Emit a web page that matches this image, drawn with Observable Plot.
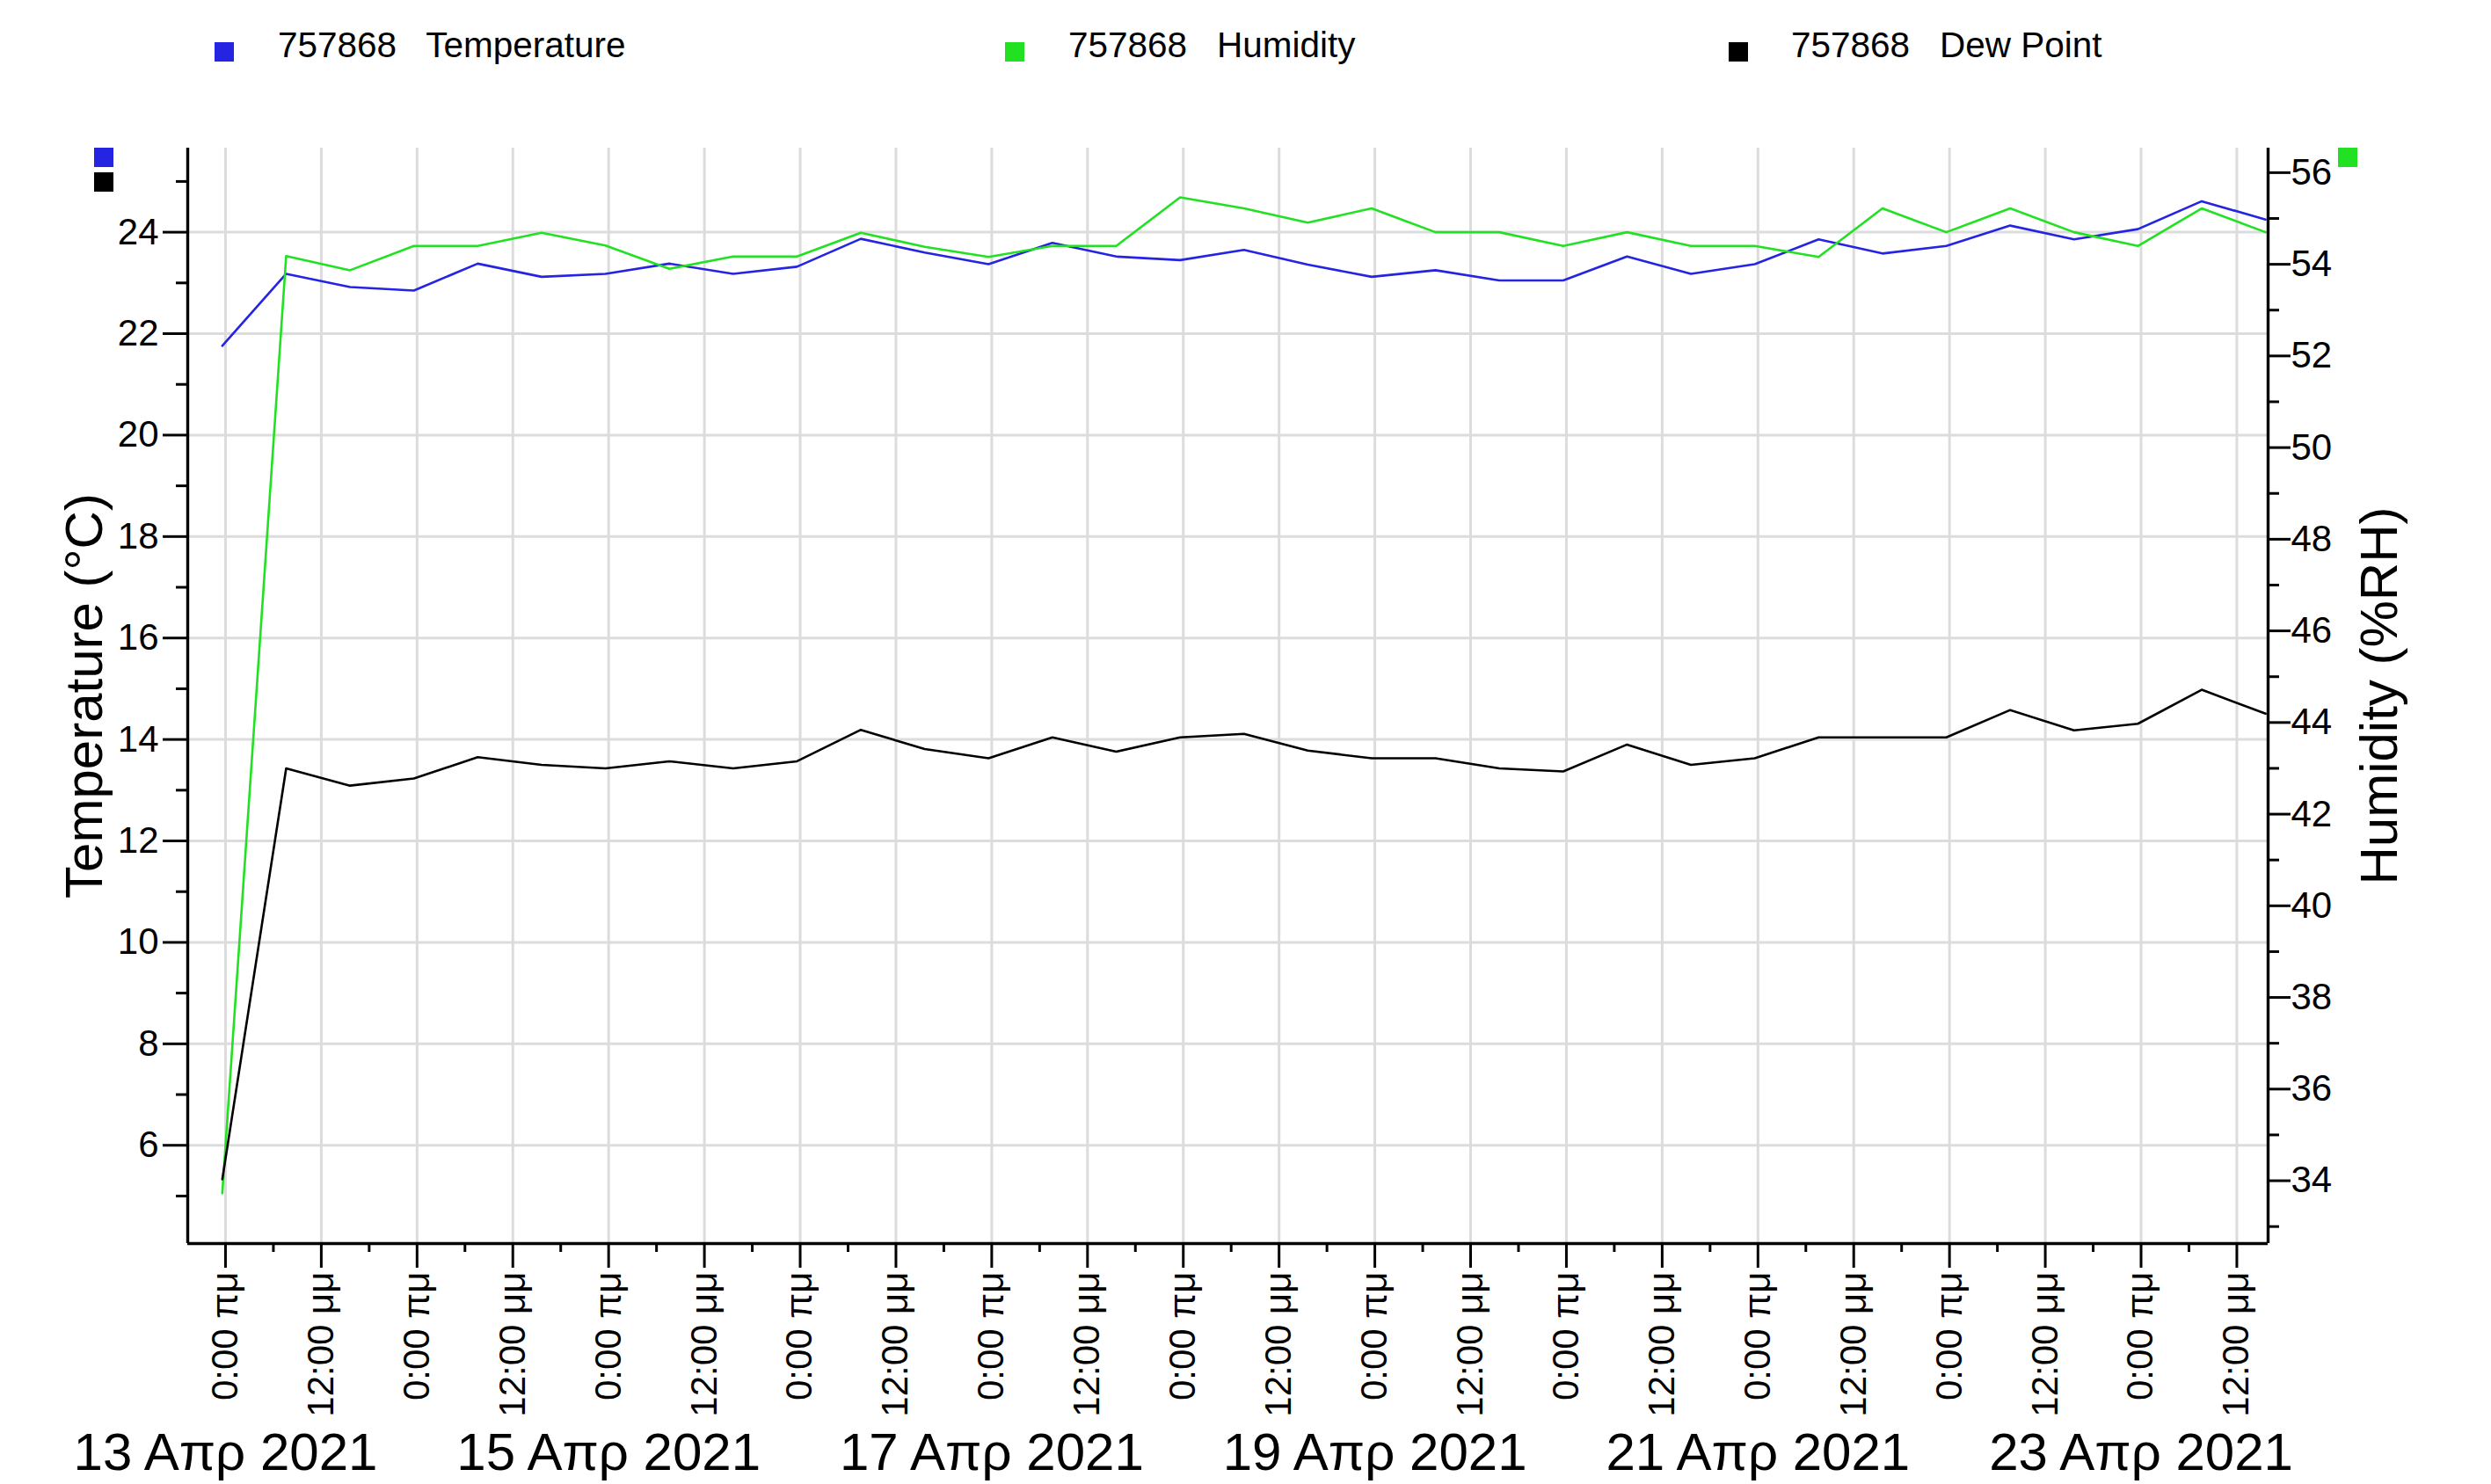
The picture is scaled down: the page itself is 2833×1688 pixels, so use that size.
<!DOCTYPE html>
<html>
<head>
<meta charset="utf-8">
<script src="https://cdn.jsdelivr.net/npm/d3@7"></script>
<script src="https://cdn.jsdelivr.net/npm/@observablehq/plot@0.6"></script>
<style>
  html, body { margin: 0; padding: 0; background: #fff; overflow: hidden; }
  body { width: 2833px; height: 1688px; font-family: "Liberation Sans", Arial, sans-serif; }
  #legend { position: relative; width: 2833px; height: 120px; }
  .sw { position: absolute; top: 48px; width: 22px; height: 22px; }
  .lt { position: absolute; top: 31px; font-size: 40.5px; line-height: 41px; color: #000; white-space: pre; }
  #chart svg { display: block; }
</style>
</head>
<body>
<div id="legend"></div>
<div id="chart"></div>
<script>
// ---------- data ----------
const sensorId = "757868";
const seriesNames = ["Temperature", "Humidity", "Dew Point"];
const seriesColors = ["#2424e2", "#22e022", "#000000"];
const firstSample = Date.UTC(2021, 3, 12, 23, 36); // readings every 8 hours
const sampleHours = 8;

const temperature = [21.76, 23.18, 22.92, 22.85, 23.38, 23.12, 23.18, 23.38, 23.18, 23.32, 23.87,
  23.60, 23.37, 23.79, 23.52, 23.45, 23.65, 23.36, 23.12, 23.25, 23.05, 23.05,
  23.52, 23.18, 23.37, 23.86, 23.58, 23.73, 24.13, 23.86, 24.06, 24.61, 24.25];
const humidity = [33.73, 54.18, 53.87, 54.40, 54.40, 54.69, 54.41, 53.90, 54.17, 54.17, 54.69,
  54.38, 54.16, 54.40, 54.40, 55.46, 55.22, 54.91, 55.22, 54.70, 54.70, 54.40,
  54.70, 54.40, 54.40, 54.16, 55.22, 54.70, 55.22, 54.70, 54.40, 55.22, 54.70];
const dewPoint = [5.33, 13.43, 13.09, 13.23, 13.65, 13.50, 13.43, 13.57, 13.43, 13.57, 14.19,
  13.81, 13.63, 14.04, 13.76, 14.04, 14.11, 13.78, 13.63, 13.63, 13.43, 13.37,
  13.90, 13.50, 13.63, 14.04, 14.04, 14.04, 14.58, 14.18, 14.31, 14.98, 14.51];

const tempTicks = [6, 8, 10, 12, 14, 16, 18, 20, 22, 24];
const tempMinorTicks = [5, 7, 9, 11, 13, 15, 17, 19, 21, 23, 25];
const humTicks = [34, 36, 38, 40, 42, 44, 46, 48, 50, 52, 54, 56];
const humMinorTicks = [33, 35, 37, 39, 41, 43, 45, 47, 49, 51, 53, 55];
const dateTickDays = [13, 15, 17, 19, 21, 23];
const dateTickLabels = ["13 Απρ 2021", "15 Απρ 2021", "17 Απρ 2021", "19 Απρ 2021", "21 Απρ 2021", "23 Απρ 2021"];
const timeTickLabels = ["0:00 πμ", "12:00 μμ"];
const yTitleLeft = "Temperature (°C)";
const yTitleRight = "Humidity (%RH)";

// ---------- scales / layout ----------
const tempDomain = [4.063, 25.657];
const humDomain = [32.629, 56.535];
const xDomain = [new Date(Date.UTC(2021, 3, 12, 19, 16)), new Date(Date.UTC(2021, 3, 23, 15, 55))];
const H = 3600e3;

const W = 2833, SVGH = 1568;
const mTop = 48, mLeft = 213, mRight = 254, mBottom = 274;

const h2t = d3.scaleLinear().domain(humDomain).range(tempDomain);

const rows = temperature.map((t, i) => ({
  time: new Date(firstSample + i * sampleHours * H),
  temp: t, hum: humidity[i], dew: dewPoint[i]
}));

const majorTicks = d3.range(22).map(i => new Date(Date.UTC(2021, 3, 13) + i * 12 * H));
const minorTicks = d3.range(21).map(i => new Date(Date.UTC(2021, 3, 13, 6) + i * 12 * H));
const dateTicks = dateTickDays.map(d => new Date(Date.UTC(2021, 3, d)));
const dateLabelMap = new Map(dateTicks.map((d, i) => [+d, dateTickLabels[i]]));

// ---------- legend ----------
const legend = document.getElementById("legend");
const swX = [244, 1143, 1966], txX = [316, 1215, 2037];
seriesNames.forEach((name, i) => {
  const s = document.createElement("div");
  s.className = "sw"; s.style.left = swX[i] + "px"; s.style.background = seriesColors[i];
  legend.appendChild(s);
  const t = document.createElement("div");
  t.className = "lt"; t.style.left = txX[i] + "px";
  t.textContent = sensorId + "   " + name;
  legend.appendChild(t);
});

// ---------- chart ----------
const grid = {stroke: "#dcdcdc", strokeOpacity: 1, strokeWidth: 3};
const chart = Plot.plot({
  width: W, height: SVGH,
  marginTop: mTop, marginLeft: mLeft, marginRight: mRight, marginBottom: mBottom,
  style: {fontFamily: "Liberation Sans, Arial, sans-serif", background: "#fff", color: "#000", overflow: "visible"},
  x: {type: "utc", domain: xDomain},
  y: {domain: tempDomain},
  marks: [
    Plot.gridX(majorTicks, grid),
    Plot.gridY(tempTicks, grid),
    Plot.line(rows, {x: "time", y: "temp", stroke: seriesColors[0], strokeWidth: 2.6}),
    Plot.line(rows, {x: "time", y: d => h2t(d.hum), stroke: seriesColors[1], strokeWidth: 2.6}),
    Plot.line(rows, {x: "time", y: "dew", stroke: seriesColors[2], strokeWidth: 2.6}),
    Plot.ruleX(xDomain, {stroke: "#000", strokeWidth: 3.4}),
    Plot.ruleY([tempDomain[0]], {stroke: "#000", strokeWidth: 3.4}),
    // x axis: time-of-day ticks
    Plot.axisX(majorTicks, {anchor: "bottom", label: null, tickSize: 28, tickPadding: 4, tickRotate: -90,
      textAnchor: "end", lineAnchor: "middle", fontSize: 42, strokeWidth: 3,
      tickFormat: d => timeTickLabels[d.getUTCHours() === 0 ? 0 : 1]}),
    Plot.axisX(minorTicks, {anchor: "bottom", label: null, tickSize: 10, strokeWidth: 3, tickFormat: () => ""}),
    Plot.axisX(dateTicks, {anchor: "bottom", label: null, tickSize: 0, tickPadding: 215, fontSize: 60,
      tickFormat: d => dateLabelMap.get(+d)}),
    // left axis (temperature)
    Plot.axisY(tempTicks, {anchor: "left", label: null, tickSize: 28, tickPadding: 5, fontSize: 42, strokeWidth: 3,
      tickFormat: d => String(d)}),
    Plot.axisY(tempMinorTicks, {anchor: "left", label: null, tickSize: 13, strokeWidth: 3, tickFormat: () => ""}),
    // right axis (humidity)
    Plot.axisY(humTicks.map(h => h2t(h)), {anchor: "right", label: null, tickSize: 25, tickPadding: 1, fontSize: 42,
      strokeWidth: 3, tickFormat: d => String(Math.round(h2t.invert(d)))}),
    Plot.axisY(humMinorTicks.map(h => h2t(h)), {anchor: "right", label: null, tickSize: 12, strokeWidth: 3, tickFormat: () => ""}),
    // axis titles
    Plot.text([yTitleLeft], {frameAnchor: "left", dx: -98, rotate: -90, fontSize: 60,
      textAnchor: "middle", lineAnchor: "bottom", fill: "#000"}),
    Plot.text([yTitleRight], {frameAnchor: "right", dx: 146, rotate: -90, fontSize: 60,
      textAnchor: "middle", lineAnchor: "bottom", fill: "#000"})
  ]
});
document.getElementById("chart").appendChild(chart);

// small colour keys at the axis tops
const svg = d3.select(chart);
[[mLeft - 106, mTop, seriesColors[0]], [mLeft - 106, mTop + 28, seriesColors[2]], [W - mRight + 80, mTop, seriesColors[1]]]
  .forEach(([x, y, c]) => svg.append("rect").attr("x", x).attr("y", y).attr("width", 22).attr("height", 22).attr("fill", c));
</script>
</body>
</html>
